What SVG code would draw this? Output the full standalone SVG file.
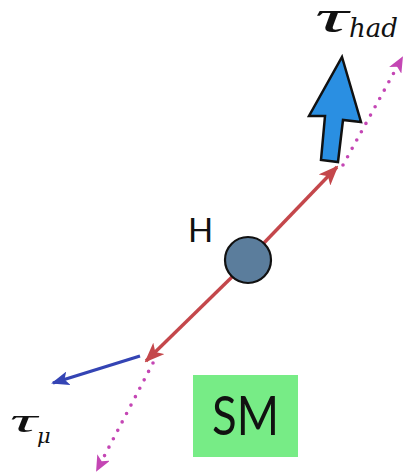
<svg xmlns="http://www.w3.org/2000/svg" width="408" height="476" viewBox="0 0 408 476">
<style>
.red{stroke:#c4474b;stroke-width:3.4;fill:none}
.blue{stroke:#3444b4;stroke-width:3.4;fill:none}
.dot{stroke:#c446b4;stroke-width:3.6;stroke-linecap:round;stroke-dasharray:0 9.5;fill:none}
.math{font-family:"DejaVu Serif","Liberation Serif",serif;font-style:italic;fill:#111}
.tau{font-family:"Liberation Serif","DejaVu Serif",serif;font-style:italic;fill:#111}
.sans{font-family:Lato,"Open Sans",sans-serif;fill:#111}
</style>
<defs>
<marker id="ar" viewBox="0 0 20 16" refX="18" refY="8" markerWidth="20" markerHeight="16" markerUnits="userSpaceOnUse" orient="auto">
<path d="M0,0 L20,8 L0,16 L5,8 Z" fill="#c4474b"/>
</marker>
<marker id="ab" viewBox="0 0 18 14" refX="16" refY="7" markerWidth="18" markerHeight="14" markerUnits="userSpaceOnUse" orient="auto">
<path d="M0,0 L18,7 L0,14 L4,7 Z" fill="#3444b4"/>
</marker>
<marker id="am" viewBox="0 0 16 14" refX="14" refY="7" markerWidth="16" markerHeight="14" markerUnits="userSpaceOnUse" orient="auto">
<path d="M0,0 L16,7 L0,14 L4,7 Z" fill="#c446b4"/>
</marker>
</defs>
<g id="connectors">
<line class="red" x1="262" y1="245" x2="337" y2="167" marker-end="url(#ar)"/>
<line class="red" x1="233" y1="276" x2="146" y2="361" marker-end="url(#ar)"/>
<line class="blue" x1="140" y1="356" x2="53" y2="383" marker-end="url(#ab)"/>
<line class="dot" x1="343" y1="165" x2="402" y2="58" marker-end="url(#am)"/>
<line class="dot" x1="153" y1="363" x2="97" y2="470" marker-end="url(#am)"/>
</g>
<g id="higgs">
<circle cx="248" cy="260" r="23" fill="#5b7d9c" stroke="#111" stroke-width="2.2"/>
<text class="sans" x="188" y="242" font-size="33">H</text>
</g>
<g id="tau-had">
<path d="M342,57 L361,122 L343,120 L338,162 L321,160 L325,116 L309,116 Z" fill="#2a8fe2" stroke="#111" stroke-width="2.5" stroke-linejoin="miter"/>
<text class="tau" x="315" y="32" font-size="46" textLength="33" lengthAdjust="spacingAndGlyphs">τ</text>
<text class="math" x="349" y="37" font-size="26">had</text>
</g>
<g id="tau-mu">
<text class="tau" x="10" y="432" font-size="33" textLength="27" lengthAdjust="spacingAndGlyphs">τ</text>
<text class="math" x="37" y="443" font-size="21">μ</text>
</g>
<g id="sm">
<rect x="193" y="375" width="105" height="82" fill="#77ec86"/>
<text class="sans" x="212" y="435" font-size="55" textLength="67" lengthAdjust="spacingAndGlyphs">SM</text>
</g>
</svg>
